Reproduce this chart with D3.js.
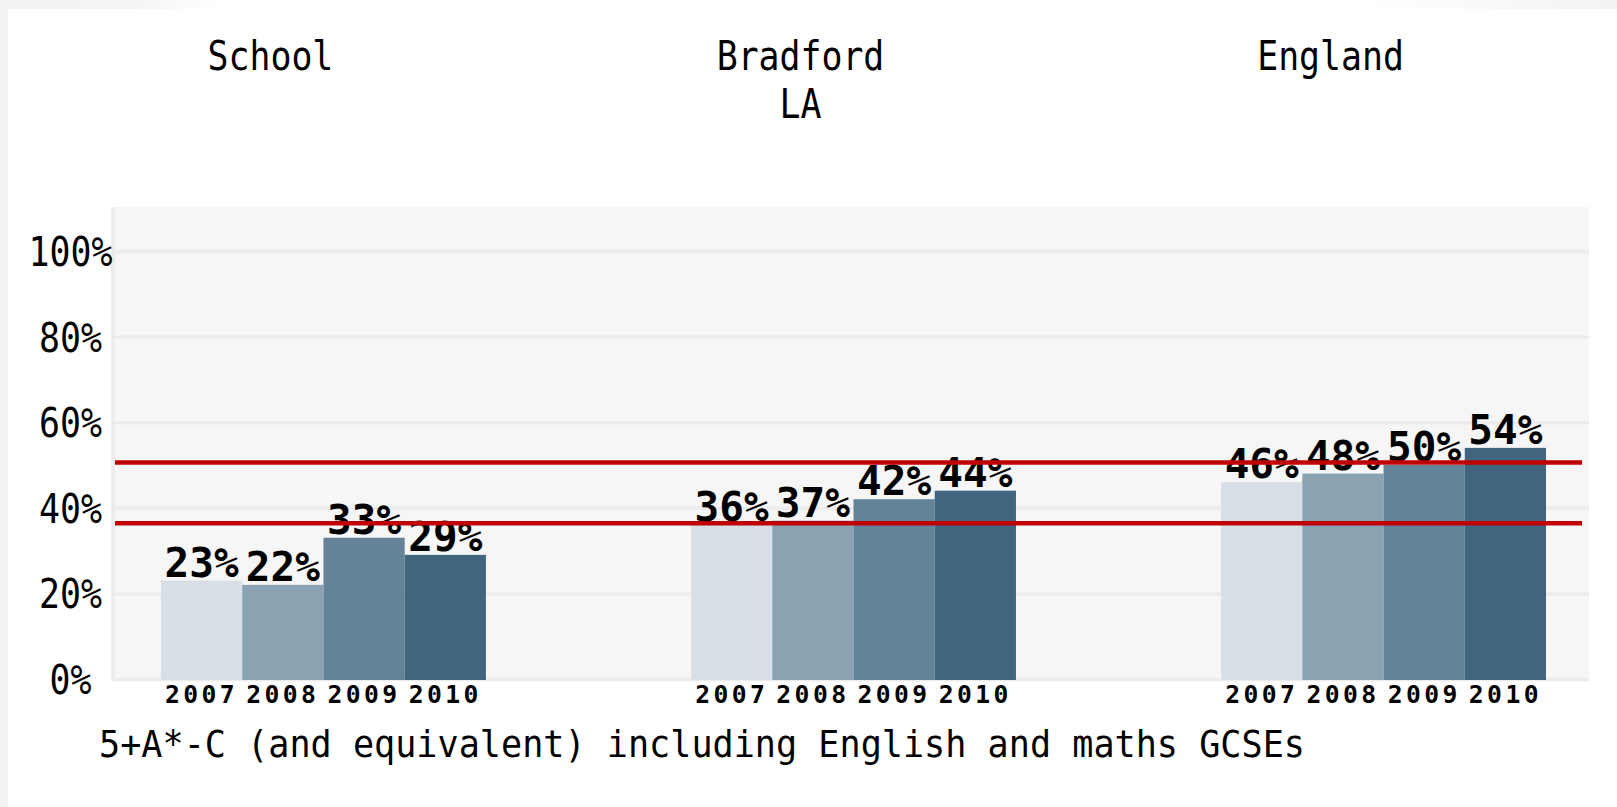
<!DOCTYPE html>
<html>
<head>
<meta charset="utf-8">
<script src="https://cdn.jsdelivr.net/npm/d3@7"></script>
<style>
  body { margin: 0; background: #fff; }
  svg { display: block; }
  text { font-family: "DejaVu Sans Mono", "Liberation Mono", monospace; fill: #000; }
</style>
</head>
<body>
<svg></svg>
<script>
var width = 1617,
    height = 807;

// data
var groups = ["School", "Bradford LA", "England"];
var headers = [["School"], ["Bradford", "LA"], ["England"]];
var years = ["2007", "2008", "2009", "2010"];
var schoolValues = [23, 22, 33, 29];
var bradfordValues = [36, 37, 42, 44];
var englandValues = [46, 48, 50, 54];
var referenceLines = [50.6, 36.4];
var yTicks = [0, 20, 40, 60, 80, 100];
var caption = "5+A*-C (and equivalent) including English and maths GCSEs";

var seriesValues = [schoolValues, bradfordValues, englandValues];
var yearColors = ["#d8dfe6", "#8ba2b2", "#658398", "#41657e"];

// layout
var plotLeft = 111, plotRight = 1589, plotTop = 207, plotBottom = 681;

var svg = d3.select("svg")
    .attr("width", width)
    .attr("height", height);

// page frame
var defs = svg.append("defs");
var gl = defs.append("linearGradient").attr("id", "fadeL");
gl.append("stop").attr("offset", "0%").attr("stop-color", "#f2f2f2");
gl.append("stop").attr("offset", "60%").attr("stop-color", "#f5f5f5");
gl.append("stop").attr("offset", "100%").attr("stop-color", "#fff");
var gr = defs.append("linearGradient").attr("id", "fadeR");
gr.append("stop").attr("offset", "0%").attr("stop-color", "#fff");
gr.append("stop").attr("offset", "100%").attr("stop-color", "#f3f3f3");
svg.append("rect").attr("x", 0).attr("y", 0).attr("width", 222).attr("height", 9).attr("fill", "url(#fadeL)");
svg.append("rect").attr("x", 1360).attr("y", 0).attr("width", 257).attr("height", 9).attr("fill", "url(#fadeR)");
svg.append("rect").attr("x", 0).attr("y", 0).attr("width", 8).attr("height", height).attr("fill", "#f3f3f3");

var y = d3.scaleLinear().domain([0, 100]).range([679, 251]);

var x0 = d3.scaleBand().domain(groups).range([161, 1546]).paddingInner(0.387);
var x1 = d3.scaleBand().domain(years).range([0, x0.bandwidth()]);

// plot background
svg.append("rect")
    .attr("x", plotLeft).attr("y", plotTop)
    .attr("width", plotRight - plotLeft).attr("height", plotBottom - plotTop)
    .attr("fill", "#f6f6f6");

// gridlines
var grid = svg.append("g")
    .attr("transform", "translate(" + (plotLeft + 4) + ",0)")
    .call(d3.axisRight(y).tickValues(yTicks).tickSize(plotRight - plotLeft - 4).tickFormat(""));
grid.select(".domain").remove();
grid.selectAll("line").attr("stroke", "#ececec").attr("stroke-width", 3.5);

// y axis line
svg.append("rect")
    .attr("x", plotLeft).attr("y", plotTop)
    .attr("width", 4).attr("height", plotBottom - plotTop)
    .attr("fill", "#ececec");

// y tick labels, centred in the left margin
var yAxis = svg.append("g")
    .attr("transform", "translate(70.5,0)")
    .call(d3.axisLeft(y).tickValues(yTicks).tickSize(0).tickFormat(d => d + "%"));
yAxis.select(".domain").remove();
yAxis.selectAll("text")
    .attr("x", 0).attr("dy", "0.36em")
    .attr("text-anchor", "middle")
    .attr("transform", "scale(0.87,1)")
    .style("font-size", "40px")
    .style("fill", "#000");

// bar groups
var gGroups = svg.selectAll("g.group")
    .data(groups)
    .enter().append("g")
    .attr("class", "group")
    .attr("transform", d => "translate(" + x0(d) + ",0)");

var cells = gGroups.selectAll("g.cell")
    .data((d, i) => seriesValues[i].map((v, j) => ({ year: years[j], value: v, idx: j })))
    .enter().append("g")
    .attr("class", "cell");

cells.append("rect")
    .attr("x", d => x1(d.year))
    .attr("y", d => y(d.value))
    .attr("width", x1.bandwidth())
    .attr("height", d => y(0) - y(d.value) + 1)
    .attr("fill", d => yearColors[d.idx]);

cells.append("text")
    .attr("x", d => x1(d.year) + x1.bandwidth() / 2)
    .attr("y", d => y(d.value) - 4)
    .attr("text-anchor", "middle")
    .style("font-size", "41px")
    .style("font-weight", "bold")
    .text(d => d.value + "%");

// year axis under each group
gGroups.each(function () {
    var ax = d3.select(this).append("g")
        .attr("transform", "translate(0," + y(0) + ")")
        .call(d3.axisBottom(x1).tickSize(0));
    ax.select(".domain").remove();
    ax.selectAll("text")
        .attr("y", 24).attr("dy", 0)
        .style("font-size", "24.7px")
        .style("font-weight", "bold")
        .style("letter-spacing", "3.4px")
        .style("fill", "#000");
});

// reference lines on top
svg.selectAll("line.ref")
    .data(referenceLines)
    .enter().append("line")
    .attr("class", "ref")
    .attr("x1", plotLeft + 4).attr("x2", 1582)
    .attr("y1", d => y(d)).attr("y2", d => y(d))
    .attr("stroke", "#c00000")
    .attr("stroke-width", 4.5);

// group headers, a little left of each group's centre
var head = svg.selectAll("text.header")
    .data(headers)
    .enter().append("text")
    .attr("class", "header")
    .attr("transform", (d, i) => "translate(" + (x0(groups[i]) + x0.bandwidth() / 2 - 53) + ",70) scale(0.87,1)")
    .attr("text-anchor", "middle")
    .style("font-size", "40px");
head.selectAll("tspan")
    .data(d => d)
    .enter().append("tspan")
    .attr("x", 0)
    .attr("y", (d, i) => i * 48)
    .text(d => d);

// caption
svg.append("text")
    .attr("transform", "translate(99,757) scale(0.95,1)")
    .style("font-size", "37px")
    .text(caption);
</script>
</body>
</html>
